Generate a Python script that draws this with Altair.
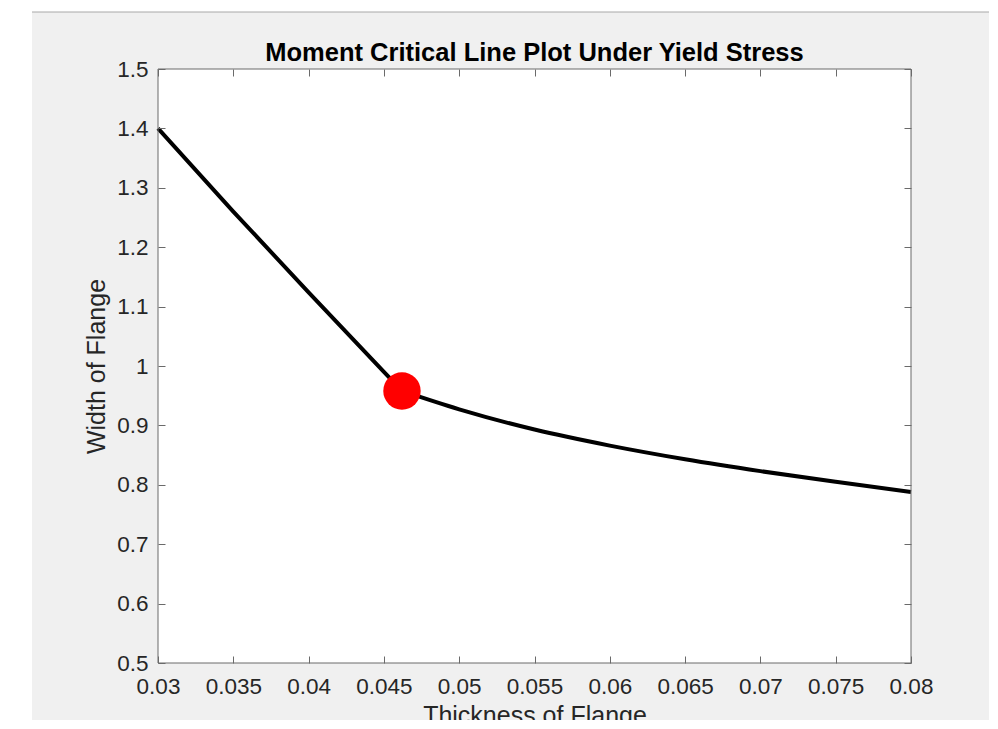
import altair as alt
import pandas as pd

# ---- data ----
seg1_t = [0.03, 0.035, 0.04, 0.045, 0.0462]
seg1_w = [1.400, 1.260, 1.124, 0.990, 0.958]
seg2_t = [0.0462, 0.05, 0.055, 0.06, 0.065, 0.07, 0.075, 0.08]
seg2_w = [0.958, 0.927, 0.893, 0.866, 0.843, 0.823, 0.805, 0.788]
crit_t = [0.0462]
crit_w = [0.958]
x_ticks = [0.03, 0.035, 0.04, 0.045, 0.05, 0.055, 0.06, 0.065, 0.07, 0.075, 0.08]
y_ticks = [0.5, 0.6, 0.7, 0.8, 0.9, 1.0, 1.1, 1.2, 1.3, 1.4, 1.5]
title_text = "Moment Critical Line Plot Under Yield Stress"

W, H = 753, 594
PAD = {"left": 150, "top": 61, "right": 78, "bottom": 57}
FONT = "Liberation Sans"
AX = "#262626"
TICKC = "#6a6a6a"

d1 = pd.DataFrame({"t": seg1_t, "w": seg1_w})
d2 = pd.DataFrame({"t": seg2_t, "w": seg2_w})
dc = pd.DataFrame({"t": crit_t, "w": crit_w})
one = pd.DataFrame({"a": [0]})

xs = alt.Scale(domain=[0.03, 0.08], nice=False, zero=False)
ys = alt.Scale(domain=[0.5, 1.5], nice=False, zero=False)

common_axis = dict(domain=False, grid=False, offset=-7, tickSize=7, tickColor=TICKC,
                   tickWidth=1, labelFont=FONT, labelFontSize=22.5, labelColor=AX,
                   titleFont=FONT, titleFontSize=25, titleColor=AX, titleFontWeight="normal",
                   zindex=1)

x_bottom = alt.Axis(orient="bottom", values=x_ticks, format=".3~f", labelPadding=12,
                    title="Thickness of Flange", titlePadding=6, labelFlush=False,
                    labelOverlap=False, **common_axis)
y_left = alt.Axis(orient="left", values=y_ticks, format=".1~f", labelPadding=10,
                  title="Width of Flange", titlePadding=7, labelFlush=False,
                  labelOverlap=False, **common_axis)
x_top = alt.Axis(orient="top", values=x_ticks, labels=False, title=None, **common_axis)
y_right = alt.Axis(orient="right", values=y_ticks, labels=False, title=None, **common_axis)

bg = alt.Chart(one).mark_rect(color="#f0f0f0").encode(
    x=alt.value(-126), x2=alt.value(W + PAD["right"]),
    y=alt.value(-57), y2=alt.value(H + PAD["bottom"]))
topline = alt.Chart(one).mark_rule(color="#a8a8a8", strokeWidth=1).encode(
    x=alt.value(-126), x2=alt.value(W + PAD["right"]), y=alt.value(-57))
plotbg = alt.Chart(one).mark_rect(color="white").encode(
    x=alt.value(0), x2=alt.value(W), y=alt.value(0), y2=alt.value(H))
title = alt.Chart(one).mark_text(
    text=title_text, font=FONT, fontSize=25.5, fontWeight="bold", color="black",
    align="center", baseline="alphabetic"
).encode(x=alt.value(W / 2), y=alt.value(-8))

line1 = alt.Chart(d1).mark_line(color="black", strokeWidth=4).encode(
    x=alt.X("t:Q", scale=xs, axis=x_bottom),
    y=alt.Y("w:Q", scale=ys, axis=y_left))
line2 = alt.Chart(d2).mark_line(color="black", strokeWidth=4, interpolate="monotone").encode(
    x=alt.X("t:Q", scale=xs, axis=None),
    y=alt.Y("w:Q", scale=ys, axis=None))
dot = alt.Chart(dc).mark_point(filled=True, color="#ff0000", size=1400, opacity=1).encode(
    x=alt.X("t:Q", scale=xs, axis=None),
    y=alt.Y("w:Q", scale=ys, axis=None))
ghost = alt.Chart(d2).mark_point(opacity=0).encode(
    x=alt.X("t:Q", scale=xs, axis=x_top),
    y=alt.Y("w:Q", scale=ys, axis=y_right))
frame = alt.Chart(one).mark_rect(filled=False, stroke=TICKC, strokeWidth=1, fillOpacity=0).encode(
    x=alt.value(0), x2=alt.value(W), y=alt.value(0), y2=alt.value(H))

chart = alt.layer(bg, topline, plotbg, title, line1, line2, dot, ghost, frame).resolve_axis(
    x="independent", y="independent"
).properties(
    width=W, height=H,
    autosize=alt.AutoSizeParams(type="none"),
    padding=PAD,
    background="white",
).configure_view(strokeWidth=0)

chart.save("out.html", embed_options={"renderer": "svg", "actions": False})
